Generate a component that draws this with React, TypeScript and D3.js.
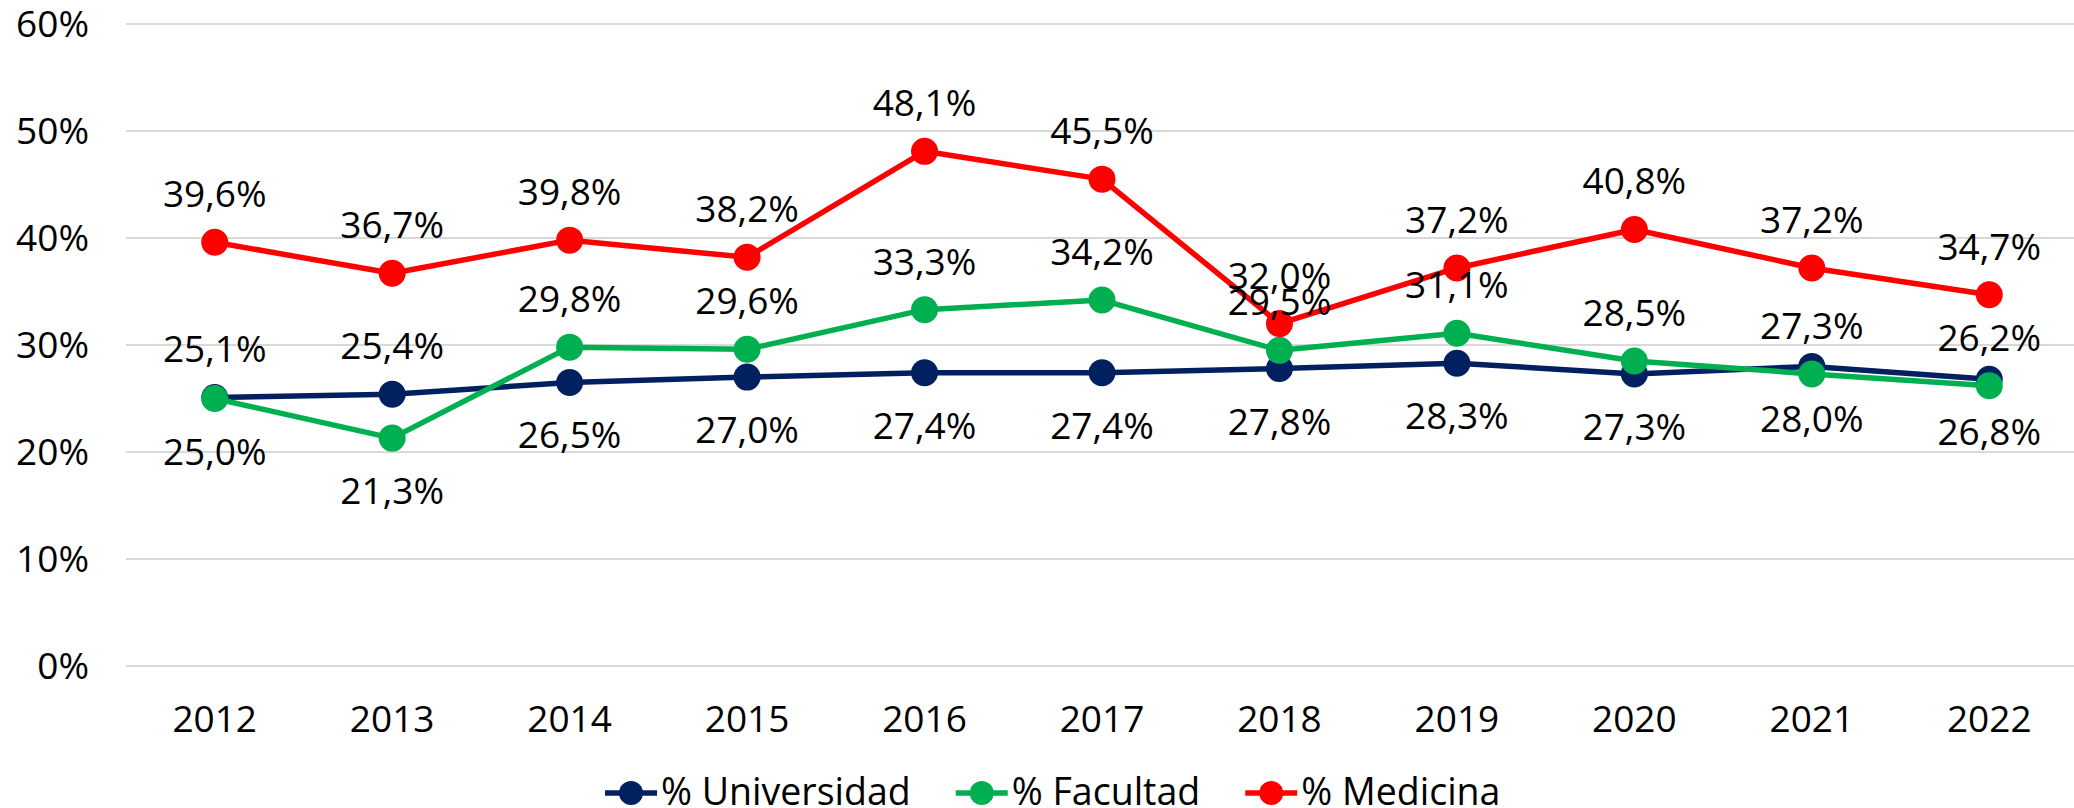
import React, { useEffect, useRef } from "react";
import * as d3 from "d3";

const years = ["2012", "2013", "2014", "2015", "2016", "2017", "2018", "2019", "2020", "2021", "2022"];
const universidad = [25.1, 25.4, 26.5, 27.0, 27.4, 27.4, 27.8, 28.3, 27.3, 28.0, 26.8];
const facultad = [25.0, 21.3, 29.8, 29.6, 33.3, 34.2, 29.5, 31.1, 28.5, 27.3, 26.2];
const medicina = [39.6, 36.7, 39.8, 38.2, 48.1, 45.5, 32.0, 37.2, 40.8, 37.2, 34.7];
const yTicks = [0, 10, 20, 30, 40, 50, 60];
// years where the Universidad label sits above its point (Facultad goes below)
const univLabelAbove = ["2012", "2013"];

const fmt = (v: number) => v.toFixed(1).replace(".", ",") + "%";

const App = () => {
    const ref = useRef<SVGSVGElement>(null);

    useEffect(() => {
        const width = 2074;
        const height = 808;
        const font = "'Open Sans', 'Noto Sans', sans-serif";
        const fs = 37;
        const svg = d3.select(ref.current);
        svg.selectAll("*").remove();

        const x = d3.scaleBand().domain(years).range([126, 2078]);
        const y = d3.scaleLinear().domain([0, 60]).range([666, 24]);
        const cx = (d: string) => (x(d) as number) + x.bandwidth() / 2;

        // gridlines
        svg.append("g")
            .selectAll("line")
            .data(yTicks)
            .join("line")
            .attr("x1", 126)
            .attr("x2", width)
            .attr("y1", (d) => y(d))
            .attr("y2", (d) => y(d))
            .attr("stroke", "#d9d9d9")
            .attr("stroke-width", 2);

        // y axis labels
        svg.append("g")
            .selectAll("text")
            .data(yTicks)
            .join("text")
            .attr("x", 89)
            .attr("y", (d) => y(d))
            .attr("dy", "0.35em")
            .attr("text-anchor", "end")
            .attr("font-family", font)
            .attr("font-size", fs)
            .attr("fill", "#000")
            .text((d) => d + "%");

        // x axis labels
        svg.append("g")
            .selectAll("text")
            .data(years)
            .join("text")
            .attr("x", (d) => cx(d))
            .attr("y", 732)
            .attr("text-anchor", "middle")
            .attr("font-family", font)
            .attr("font-size", fs)
            .attr("fill", "#000")
            .text((d) => d);

        const series = [
            { name: "% Universidad", color: "#002060", values: universidad, key: "u" },
            { name: "% Facultad", color: "#00B050", values: facultad, key: "f" },
            { name: "% Medicina", color: "#FF0000", values: medicina, key: "m" },
        ];

        const line = d3
            .line<number>()
            .x((d, i) => cx(years[i]))
            .y((d) => y(d));

        series.forEach((s) => {
            const g = svg.append("g");
            g.append("path")
                .attr("d", line(s.values))
                .attr("fill", "none")
                .attr("stroke", s.color)
                .attr("stroke-width", 5.5)
                .attr("stroke-linejoin", "round");
            g.selectAll("circle")
                .data(s.values)
                .join("circle")
                .attr("cx", (d, i) => cx(years[i]))
                .attr("cy", (d) => y(d))
                .attr("r", 13.5)
                .attr("fill", s.color);
        });

        // data labels
        series.forEach((s) => {
            svg.append("g")
                .selectAll("text")
                .data(s.values)
                .join("text")
                .attr("x", (d, i) => cx(years[i]))
                .attr("y", (d, i) => {
                    let above = true;
                    if (s.key === "u") above = univLabelAbove.includes(years[i]);
                    if (s.key === "f") above = !univLabelAbove.includes(years[i]);
                    return above ? y(d) - 35 : y(d) + 66;
                })
                .attr("text-anchor", "middle")
                .attr("font-family", font)
                .attr("font-size", fs)
                .attr("fill", "#000")
                .text((d) => fmt(d));
        });

        // legend
        const legend = svg.append("g");
        let lx = 605;
        const ly = 793;
        series.forEach((s) => {
            legend.append("line")
                .attr("x1", lx)
                .attr("x2", lx + 52)
                .attr("y1", ly)
                .attr("y2", ly)
                .attr("stroke", s.color)
                .attr("stroke-width", 5.5);
            legend.append("circle")
                .attr("cx", lx + 26)
                .attr("cy", ly)
                .attr("r", 12)
                .attr("fill", s.color);
            const t = legend.append("text")
                .attr("x", lx + 56)
                .attr("y", 805)
                .attr("font-family", font)
                .attr("font-size", 37.5)
                .attr("fill", "#000")
                .text(s.name);
            const w = (t.node() as SVGTextElement).getComputedTextLength();
            lx = lx + 56 + w + 45;
        });

        svg.attr("width", width).attr("height", height);
    }, []);

    return (
        <svg
            ref={ref}
            width={2074}
            height={808}
            style={{ position: "absolute", left: 0, top: 0, background: "#fff" }}
        />
    );
};

export default App;
